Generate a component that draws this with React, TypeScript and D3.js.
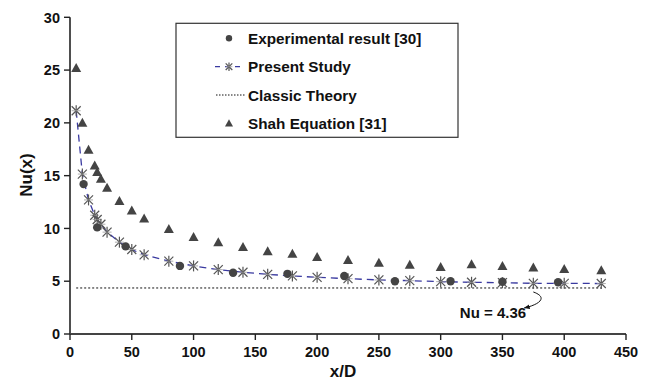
import React from "react";
import * as d3 from "d3";

const presentX = [5, 10, 15, 20, 22, 25, 30, 40, 50, 60, 80, 100, 120, 140, 160, 180, 200, 225, 250, 275, 300, 325, 350, 375, 400, 430];
const presentY = [21.15, 15.15, 12.7, 11.25, 10.85, 10.4, 9.65, 8.7, 8.0, 7.5, 6.9, 6.45, 6.1, 5.85, 5.65, 5.5, 5.37, 5.24, 5.12, 5.05, 4.96, 4.9, 4.86, 4.8, 4.8, 4.78];
const shahX = [5, 10, 15, 20, 22, 25, 30, 40, 50, 60, 80, 100, 120, 140, 160, 180, 200, 225, 250, 275, 300, 325, 350, 375, 400, 430];
const shahY = [25.2, 20, 17.45, 15.95, 15.35, 14.7, 13.85, 12.6, 11.7, 10.95, 9.95, 9.2, 8.7, 8.25, 7.85, 7.6, 7.3, 7.0, 6.75, 6.55, 6.35, 6.6, 6.45, 6.3, 6.15, 6.05];
const expX = [11, 22, 45, 89, 132, 176, 222, 263, 308, 350, 395];
const expY = [14.2, 10.1, 8.3, 6.45, 5.8, 5.7, 5.5, 5.0, 5.0, 4.95, 4.9];
const classicX = [5, 430];
const classicNu = 4.36;
const xTicks = [0, 50, 100, 150, 200, 250, 300, 350, 400, 450];
const yTicks = [0, 5, 10, 15, 20, 25, 30];
const legendLabels = ["Experimental result [30]", "Present Study", "Classic Theory", "Shah Equation [31]"];

const FONT = "'Liberation Sans', Arial, Helvetica, sans-serif";
const MARK = "#444444";

function Star({ x, y, r = 4.5 }: { x: number; y: number; r?: number }) {
  return (
    <g stroke="#555" strokeWidth={1.2}>
      <line x1={x - r} y1={y - r} x2={x + r} y2={y + r} />
      <line x1={x - r} y1={y + r} x2={x + r} y2={y - r} />
      <line x1={x} y1={y - r - 1} x2={x} y2={y + r + 1} />
      <line x1={x - r} y1={y} x2={x + r} y2={y} stroke="#999" strokeWidth={0.8} />
    </g>
  );
}

function Tri({ x, y, s = 5 }: { x: number; y: number; s?: number }) {
  return <path d={`M${x},${y - s} L${x + s},${y + s * 0.8} L${x - s},${y + s * 0.8}Z`} fill={MARK} />;
}

export default function App() {
  const W = 650, H = 381;
  const x = d3.scaleLinear().domain([0, 450]).range([70, 626]);
  const y = d3.scaleLinear().domain([0, 30]).range([334, 17.3]);
  const line = d3.line<number>().x((_, i) => x(presentX[i])).y((d) => y(d));

  const ax0 = x(375), ay0 = y(classicNu) + 4;
  const ax1 = ax0 - 9, ay1 = ay0 + 16;

  const lx = 176, ly = 23.3, lw = 282, lh = 114;
  const rows = [38.3, 66.7, 95, 123.3];
  const symX = 229;

  return (
    <svg width={W} height={H} style={{ position: "absolute", left: 0, top: 0, background: "#fff" }} fontFamily={FONT}>
      <defs>
        <marker id="ah" viewBox="0 0 10 10" refX="9" refY="5" markerWidth="6" markerHeight="6" orient="auto">
          <path d="M0,1 L10,5 L0,9 Z" fill="#111" />
        </marker>
      </defs>
      {/* classic theory */}
      <line x1={x(classicX[0])} x2={x(classicX[1])} y1={y(classicNu)} y2={y(classicNu)} stroke="#111" strokeWidth={1} strokeDasharray="2,2" />
      {/* present study line */}
      <path d={line(presentY) || ""} fill="none" stroke="#3a3aa0" strokeWidth={1.3} strokeDasharray="7,5" />
      {shahY.map((v, i) => <Tri key={"t" + i} x={x(shahX[i])} y={y(v)} />)}
      {presentY.map((v, i) => <Star key={"s" + i} x={x(presentX[i])} y={y(v)} />)}
      {expY.map((v, i) => <circle key={"c" + i} cx={x(expX[i])} cy={y(v)} r={4.2} fill={MARK} />)}

      {/* axes */}
      <line x1={70} x2={70} y1={y(30)} y2={y(0)} stroke="#222" strokeWidth={1.6} />
      <line x1={70} x2={626} y1={y(0)} y2={y(0)} stroke="#444" strokeWidth={1.8} />
      {yTicks.map((t) => (
        <g key={"yt" + t}>
          <line x1={64} x2={70} y1={y(t)} y2={y(t)} stroke="#222" strokeWidth={1.4} />
          <text x={60} y={y(t)} dy="0.36em" textAnchor="end" fontSize={14.5} fontWeight="bold" fill="#111">{t}</text>
        </g>
      ))}
      {xTicks.map((t) => (
        <g key={"xt" + t}>
          <line x1={x(t)} x2={x(t)} y1={334} y2={340} stroke="#222" strokeWidth={1.4} />
          <text x={x(t)} y={357} textAnchor="middle" fontSize={14.5} fontWeight="bold" fill="#111">{t}</text>
        </g>
      ))}
      <text x={343} y={377} textAnchor="middle" fontSize={17} fontWeight="bold" fill="#111">x/D</text>
      <text transform={`translate(32,175) rotate(-90)`} textAnchor="middle" fontSize={17} fontWeight="bold" fill="#111">Nu(x)</text>

      {/* annotation */}
      <path d={`M${ax0},${ay0} C${ax0 + 14},${ay0 + 5} ${ax0 + 8},${ay1 - 4} ${ax1},${ay1}`} fill="none" stroke="#111" strokeWidth={1} markerEnd="url(#ah)" />
      <text x={493} y={318} textAnchor="middle" fontSize={15} fontWeight="bold" fill="#111">Nu = 4.36</text>

      {/* legend */}
      <rect x={lx} y={ly} width={lw} height={lh} fill="#fff" stroke="#333" strokeWidth={1.2} />
      <circle cx={symX} cy={rows[0]} r={3.2} fill={MARK} />
      <line x1={215} x2={245} y1={rows[1]} y2={rows[1]} stroke="#3a3aa0" strokeWidth={1.2} strokeDasharray="5,5" />
      <Star x={symX} y={rows[1]} r={3.3} />
      <line x1={216} x2={245} y1={rows[2]} y2={rows[2]} stroke="#111" strokeWidth={1} strokeDasharray="1.5,1.5" />
      <Tri x={symX} y={rows[3]} s={4} />
      {legendLabels.map((l, i) => (
        <text key={l} x={248} y={rows[i]} dy="0.36em" fontSize={15.3} fontWeight="bold" fill="#111">{l}</text>
      ))}
    </svg>
  );
}
